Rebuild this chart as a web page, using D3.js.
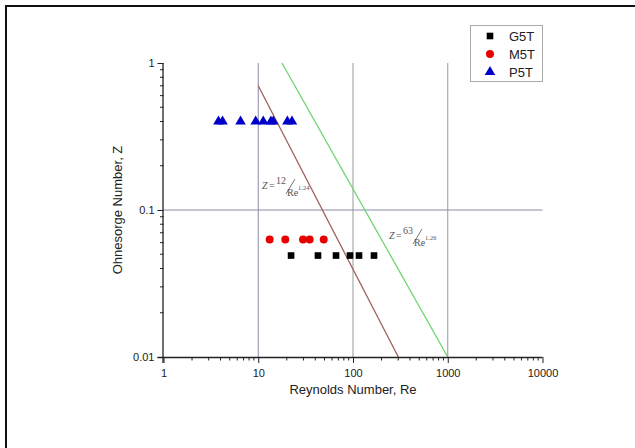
<!DOCTYPE html>
<html><head><meta charset="utf-8">
<script src="https://cdn.jsdelivr.net/npm/d3@7"></script>
<style>body{margin:0;background:#fff;font-family:Arial,"Liberation Sans",sans-serif;}</style>
</head><body><svg id="c" width="635" height="448"></svg>
<script>
const seriesNames = ["G5T", "M5T", "P5T"];
const g5tRe = [22.2, 42.7, 66.2, 93, 115.7, 166.6];
const g5tZ  = [0.049, 0.049, 0.049, 0.049, 0.049, 0.049];
const m5tRe = [13.2, 19.3, 29.7, 34.9, 49.1];
const m5tZ  = [0.063, 0.063, 0.063, 0.063, 0.063];
const p5tRe = [3.8, 4.2, 6.5, 9.4, 11.3, 13.6, 14.4, 20.3, 22.7];
const p5tZ  = [0.40, 0.40, 0.40, 0.40, 0.40, 0.40, 0.40, 0.40, 0.40];
const brownLineRe = [10, 301];
const brownLineZ  = [0.70, 0.01];
const greenLineRe = [17.8, 1000];
const greenLineZ  = [1, 0.01];
const xTicks = [1, 10, 100, 1000, 10000];
const yTicks = [0.01, 0.1, 1];
const xGrid = [10, 100, 1000];
const yGrid = [0.1];

const svg = d3.select("#c");
const x = d3.scaleLog().domain([1, 10000]).range([163.5, 542.5]);
const y = d3.scaleLog().domain([0.01, 1]).range([357, 63]);

// outer frame
svg.append("path").attr("d","M6,448 V6 H640").attr("fill","none").attr("stroke","#111").attr("stroke-width",2);

// grid
svg.selectAll(".vg").data(xGrid).join("line")
  .attr("x1",d=>x(d)).attr("x2",d=>x(d)).attr("y1",y(1)).attr("y2",y(0.01))
  .attr("stroke",(d,i)=>i===0?"#8a8aa8":"#999").attr("stroke-width",1);
svg.selectAll(".hg").data(yGrid).join("line")
  .attr("x1",x(1)).attr("x2",x(10000)).attr("y1",d=>y(d)).attr("y2",d=>y(d))
  .attr("stroke","#8a8aa8").attr("stroke-width",1);

// fit lines
const line = d3.line().x(d=>x(d[0])).y(d=>y(d[1]));
svg.append("path").attr("d", line(brownLineRe.map((r,i)=>[r, brownLineZ[i]])))
  .attr("stroke","#a0625c").attr("stroke-width",1.3).attr("fill","none");
svg.append("path").attr("d", line(greenLineRe.map((r,i)=>[r, greenLineZ[i]])))
  .attr("stroke","#6ed66e").attr("stroke-width",1.3).attr("fill","none");

// axes
const minorX = [];
for (let e=0;e<4;e++) for (let k=2;k<=9;k++) minorX.push(k*Math.pow(10,e));
const minorY = [];
for (let e=-2;e<0;e++) for (let k=2;k<=9;k++) minorY.push(k*Math.pow(10,e));

const xAxis = svg.append("g").attr("transform",`translate(0,${y(0.01)})`)
  .call(d3.axisBottom(x).tickValues(xTicks).tickFormat(d3.format("d")).tickSize(6).tickPadding(6));
xAxis.select(".domain").attr("d",`M${x(1)-6},0.5H${x(10000)}`).attr("stroke","#222").attr("stroke-width",1.3);
xAxis.selectAll(".tick line").attr("stroke","#222");
xAxis.selectAll("text").attr("font-size",11).attr("fill","#222").attr("font-family","Arial, 'Liberation Sans', sans-serif");
svg.append("g").attr("transform",`translate(0,${y(0.01)})`).selectAll("line").data(minorX).join("line")
  .attr("x1",d=>x(d)).attr("x2",d=>x(d)).attr("y1",0).attr("y2",3.5).attr("stroke","#222");

const yAxis = svg.append("g").attr("transform",`translate(${x(1)},0)`)
  .call(d3.axisLeft(y).tickValues(yTicks).tickFormat(d=>d===1?"1":d===0.1?"0.1":"0.01").tickSize(6).tickPadding(3));
yAxis.select(".domain").attr("d",`M-0.5,${y(1)}V${y(0.01)+6}`).attr("stroke","#222").attr("stroke-width",1.3);
yAxis.selectAll(".tick line").attr("stroke","#222");
yAxis.selectAll("text").attr("font-size",11).attr("fill","#222").attr("font-family","Arial, 'Liberation Sans', sans-serif");
svg.append("g").attr("transform",`translate(${x(1)},0)`).selectAll("line").data(minorY).join("line")
  .attr("y1",d=>y(d)).attr("y2",d=>y(d)).attr("x1",0).attr("x2",-3.5).attr("stroke","#222");

// axis titles
svg.append("text").attr("x",353).attr("y",394).attr("text-anchor","middle")
  .attr("font-size",13).attr("fill","#222").text("Reynolds Number, Re");
svg.append("text").attr("transform","translate(122,210) rotate(-90)").attr("text-anchor","middle")
  .attr("font-size",13).attr("fill","#222").text("Ohnesorge Number, Z");

// equation labels
function eq(px, py, num, exp){
  const g = svg.append("g").attr("transform",`translate(${px},${py})`)
    .attr("font-family","'Liberation Serif','DejaVu Serif',serif").attr("fill","#555");
  g.append("text").attr("x",0).attr("y",0).attr("font-size",10).attr("font-style","italic").text("Z");
  g.append("text").attr("x",7).attr("y",0).attr("font-size",10).text("=");
  g.append("text").attr("x",14).attr("y",-5).attr("font-size",10).text(num);
  g.append("line").attr("x1",24).attr("y1",5).attr("x2",33).attr("y2",-10).attr("stroke","#555").attr("stroke-width",0.8);
  g.append("text").attr("x",25).attr("y",7).attr("font-size",10).text("Re");
  g.append("text").attr("x",36).attr("y",1).attr("font-size",6.5).text(exp);
}
eq(262, 189, "12", "1.24");
eq(389, 239, "63", "1.26");

// markers
const sq = d3.symbol().type(d3.symbolSquare).size(44);
const ci = d3.symbol().type(d3.symbolCircle).size(50);
const tr = d3.symbol().type(d3.symbolTriangle).size(48);
const mk = (re, z, sym, col) => svg.append("g").selectAll("path").data(re.map((r,i)=>[r,z[i]])).join("path")
  .attr("d",sym).attr("fill",col).attr("transform",d=>`translate(${x(d[0])},${y(d[1])})`);
mk(g5tRe, g5tZ, sq, "#000");
mk(m5tRe, m5tZ, ci, "#e80000");
mk(p5tRe, p5tZ, tr, "#0000c8");

// legend
const lg = svg.append("g");
lg.append("rect").attr("x",470.5).attr("y",25.5).attr("width",72).attr("height",56)
  .attr("fill","#fff").attr("stroke","#aaa");
const legSyms = [sq, ci, tr], legCols = ["#000","#e80000","#0000c8"];
seriesNames.forEach((n,i)=>{
  const yy = 36 + i*18;
  lg.append("path").attr("d", legSyms[i]).attr("fill",legCols[i]).attr("transform",`translate(490,${yy})`);
  lg.append("text").attr("x",509).attr("y",yy+5).attr("font-size",13).attr("fill","#222").text(n);
});
</script></body></html>
